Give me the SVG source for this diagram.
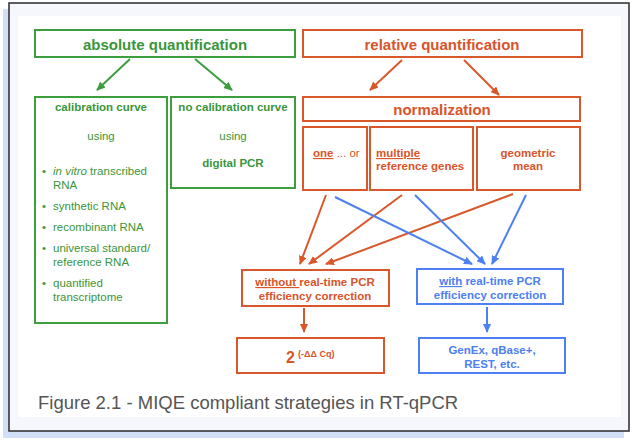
<svg xmlns="http://www.w3.org/2000/svg" width="635" height="441" viewBox="0 0 635 441">
<style>
text{font-family:"Liberation Sans",Arial,sans-serif;}
.g{fill:none;stroke:#3d9e3d;stroke-width:2;}
.r{fill:none;stroke:#d9582b;stroke-width:2;}
.b{fill:none;stroke:#4c80f3;stroke-width:2;}
.gt{fill:#3a963a;}
.rt{fill:#d9542a;}
.bt{fill:#4c80f3;}
.h{font-size:15px;font-weight:bold;text-anchor:middle;}
.l{font-size:11.5px;font-weight:bold;text-anchor:middle;}
.n{font-size:11.5px;}
.c{text-anchor:middle;}
.u{text-decoration:underline;}
</style>
<defs>
<marker id="ag" markerUnits="userSpaceOnUse" markerWidth="9" markerHeight="8" refX="8" refY="4" orient="auto"><path d="M0,0 L9,4 L0,8 z" fill="#3d9e3d"/></marker>
<marker id="ar" markerUnits="userSpaceOnUse" markerWidth="9" markerHeight="8" refX="8" refY="4" orient="auto"><path d="M0,0 L9,4 L0,8 z" fill="#d9582b"/></marker>
<marker id="ab" markerUnits="userSpaceOnUse" markerWidth="9" markerHeight="8" refX="8" refY="4" orient="auto"><path d="M0,0 L9,4 L0,8 z" fill="#4c80f3"/></marker>
</defs>
<rect x="0" y="0" width="635" height="441" fill="#ffffff"/>
<rect x="3" y="9" width="621" height="429" fill="#d3dff6"/>
<rect x="9" y="3" width="620" height="428" fill="#f6f7fc" stroke="#2a2a2a" stroke-width="1.5"/>
<rect x="18" y="16" width="603" height="401" fill="#ffffff"/>

<g id="absolute">
<rect class="g" x="35" y="30" width="260" height="27"/>
<text class="h gt" x="165" y="49.5">absolute quantification</text>
</g>
<g id="relative">
<rect class="r" x="303" y="30" width="279" height="27"/>
<text class="h rt" x="442" y="49.5">relative quantification</text>
</g>
<g id="calibration">
<rect class="g" x="35" y="97" width="132" height="226"/>
<text class="l gt" x="101" y="111">calibration curve</text>
<text class="n gt c" x="101" y="140">using</text>
<g class="n gt">
<text x="42" y="175">•</text><text x="53" y="175"><tspan font-style="italic">in vitro</tspan> transcribed</text>
<text x="53" y="189">RNA</text>
<text x="42" y="210">•</text><text x="53" y="210">synthetic RNA</text>
<text x="42" y="231">•</text><text x="53" y="231">recombinant RNA</text>
<text x="42" y="252">•</text><text x="53" y="252">universal standard/</text>
<text x="53" y="266">reference RNA</text>
<text x="42" y="287">•</text><text x="53" y="287">quantified</text>
<text x="53" y="301">transcriptome</text>
</g>
</g>
<g id="nocalibration">
<rect class="g" x="171" y="97" width="124" height="91"/>
<text class="l gt" x="233" y="111">no calibration curve</text>
<text class="n gt c" x="233" y="140">using</text>
<text class="l gt" x="233" y="167">digital PCR</text>
</g>
<g id="normalization">
<rect class="r" x="303" y="97" width="277" height="24"/>
<text class="h rt" x="442" y="115">normalization</text>
</g>
<g id="one">
<rect class="r" x="303" y="127" width="64" height="63"/>
<text class="n rt" x="313" y="157"><tspan class="u" font-weight="bold">one</tspan> ... or</text>
</g>
<g id="multiple">
<rect class="r" x="370" y="127" width="103" height="63"/>
<text class="n rt" x="376" y="157" font-weight="bold"><tspan class="u">multiple</tspan></text>
<text class="n rt" x="376" y="170" font-weight="bold">reference genes</text>
</g>
<g id="geometric">
<rect class="r" x="477" y="127" width="103" height="63"/>
<text class="l rt" x="528" y="157">geometric</text>
<text class="l rt" x="528" y="170">mean</text>
</g>
<g id="without">
<rect class="r" x="242" y="270" width="147" height="36"/>
<text class="l rt" x="315" y="286"><tspan class="u">without </tspan>real-time PCR</text>
<text class="l rt" x="315" y="300">efficiency correction</text>
</g>
<g id="with">
<rect class="b" x="417" y="269" width="146" height="35"/>
<text class="l bt" x="490" y="285"><tspan class="u">with</tspan> real-time PCR</text>
<text class="l bt" x="490" y="299">efficiency correction</text>
</g>
<g id="delta">
<rect class="r" x="237" y="338" width="147" height="35"/>
<text class="rt" x="286" y="363" font-size="16" font-weight="bold">2</text>
<text class="rt" x="298" y="357" font-size="9" font-weight="bold">(-ΔΔ Cq)</text>
</g>
<g id="genex">
<rect class="b" x="419" y="338" width="146" height="35"/>
<text class="l bt" x="492" y="354">GenEx, qBase+,</text>
<text class="l bt" x="492" y="368">REST, etc.</text>
</g>
<g id="connectors">
<line class="g" x1="130" y1="59" x2="97" y2="90" marker-end="url(#ag)"/>
<line class="g" x1="195" y1="59" x2="232" y2="90" marker-end="url(#ag)"/>
<line class="r" x1="402" y1="60" x2="370" y2="90" marker-end="url(#ar)"/>
<line class="r" x1="464" y1="60" x2="499" y2="95" marker-end="url(#ar)"/>
<line class="r" x1="326" y1="195" x2="300" y2="264" marker-end="url(#ar)"/>
<line class="r" x1="402" y1="195" x2="309" y2="264" marker-end="url(#ar)"/>
<line class="r" x1="513" y1="194" x2="326" y2="264" marker-end="url(#ar)"/>
<line class="b" x1="335" y1="197" x2="472" y2="264" marker-end="url(#ab)"/>
<line class="b" x1="415" y1="195" x2="485" y2="264" marker-end="url(#ab)"/>
<line class="b" x1="526" y1="195" x2="492" y2="264" marker-end="url(#ab)"/>
<line class="r" x1="304" y1="308" x2="304" y2="332" marker-end="url(#ar)"/>
<line class="b" x1="487" y1="307" x2="487" y2="332" marker-end="url(#ab)"/>
</g>
<text x="38" y="409" font-size="18.5" fill="#555555">Figure 2.1 - MIQE compliant strategies in RT-qPCR</text>
</svg>
